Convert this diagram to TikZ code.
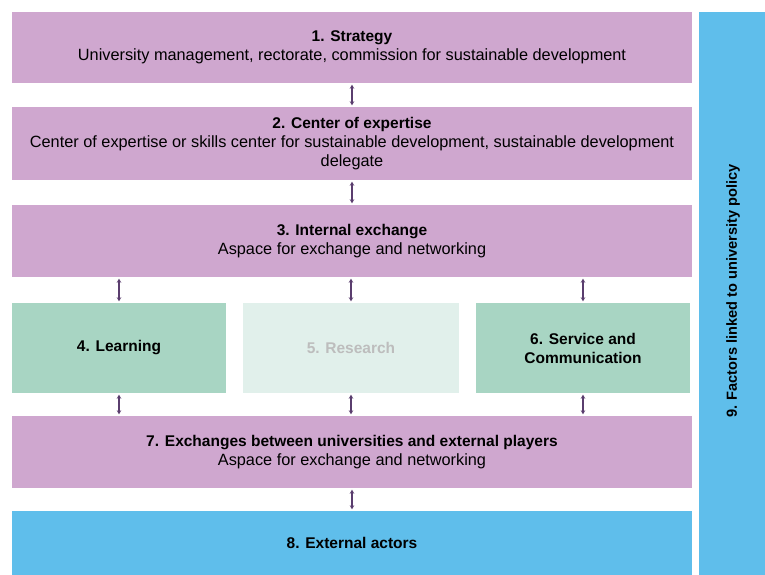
\documentclass[tikz,border=0pt]{standalone}
\usepackage{fontspec}
\setmainfont{Liberation Sans}
\usetikzlibrary{arrows.meta}
\definecolor{purp}{HTML}{CFA7CF}
\definecolor{grn}{HTML}{A8D5C3}
\definecolor{lgrn}{HTML}{E1F0EB}
\definecolor{blu}{HTML}{5FBEEB}
\definecolor{arr}{HTML}{5A3D6E}
\definecolor{fade}{HTML}{BDBDBD}
\newcommand{\ttl}[1]{{\fontsize{15.5}{19}\selectfont\bfseries #1}}
\begin{document}
\begin{tikzpicture}[x=1pt,y=-1pt,
  box/.style={rectangle,inner sep=0pt,align=center,text=black,font=\fontsize{16.3}{19}\selectfont},
  pbox/.style={box,fill=purp},
  gbox/.style={box,fill=grn},
  dbl/.style={{Stealth[length=4pt,width=4.5pt]}-{Stealth[length=4pt,width=4.5pt]},draw=arr,line width=1.4pt,shorten >=1.5pt,shorten <=1.5pt}]
\useasboundingbox[fill=white] (0,0) rectangle (765,575);
\node[pbox,minimum width=680pt,minimum height=71pt] (s1) at (352,47.5)
  {\ttl{1. Strategy}\\University management, rectorate, commission for sustainable development};
\node[pbox,minimum width=680pt,minimum height=73pt] (s2) at (352,143.5)
  {\ttl{2. Center of expertise}\\Center of expertise or skills center for sustainable development, sustainable development\\delegate};
\node[pbox,minimum width=680pt,minimum height=72pt] (s3) at (352,241)
  {\ttl{3. Internal exchange}\\Aspace for exchange and networking};
\node[gbox,minimum width=214pt,minimum height=90pt] (s4) at (119,348)
  {\ttl{4. Learning}};
\node[box,fill=lgrn,text=fade,minimum width=216pt,minimum height=90pt] (s5) at (351,348)
  {\ttl{5. Research}};
\node[gbox,minimum width=214pt,minimum height=90pt] (s6) at (583,348)
  {\ttl{6. Service and}\\\ttl{Communication}};
\node[pbox,minimum width=680pt,minimum height=72pt] (s7) at (352,452)
  {\ttl{7. Exchanges between universities and external players}\\Aspace for exchange and networking};
\node[box,fill=blu,minimum width=680pt,minimum height=64pt] (s8) at (352,543)
  {\ttl{8. External actors}};
\node[box,fill=blu,minimum width=66pt,minimum height=563pt] (s9) at (732,293.5) {};
\node[box,rotate=90] (t9) at (733,291) {{\fontsize{14.6}{17}\selectfont\bfseries 9. Factors linked to university policy}};
\draw[dbl] (s1.south) -- (s2.north);
\draw[dbl] (s2.south) -- (s3.north);
\draw[dbl] (s3.south -| s4.north) -- (s4.north);
\draw[dbl] (s3.south -| s5.north) -- (s5.north);
\draw[dbl] (s3.south -| s6.north) -- (s6.north);
\draw[dbl] (s4.south) -- (s7.north -| s4.south);
\draw[dbl] (s5.south) -- (s7.north -| s5.south);
\draw[dbl] (s6.south) -- (s7.north -| s6.south);
\draw[dbl] (s7.south) -- (s8.north);
\end{tikzpicture}
\end{document}
